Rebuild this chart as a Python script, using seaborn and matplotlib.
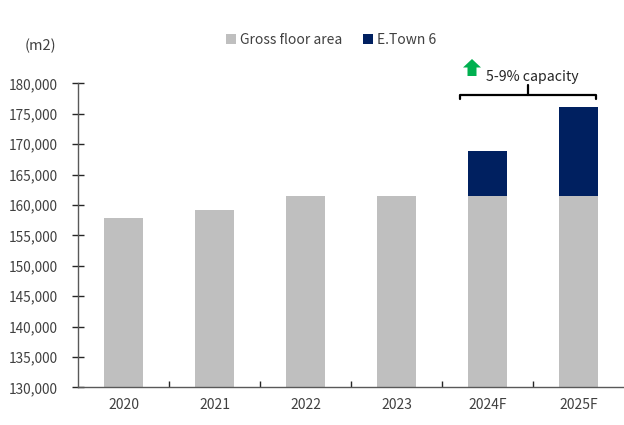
import matplotlib
matplotlib.use("Agg")
import matplotlib.pyplot as plt
import seaborn as sns
import pandas as pd
from matplotlib.patches import Patch, Polygon
from matplotlib.ticker import FuncFormatter, FixedLocator

years = ["2020", "2021", "2022", "2023", "2024F", "2025F"]
gross = [157900, 159200, 161400, 161400, 161400, 161400]
etown = [0, 0, 0, 0, 7400, 14700]
yticks = list(range(130000, 180001, 5000))

GRAY = "#BFBFBF"
NAVY = "#002060"
TXT = "#404040"

sns.set_theme(style="white")
plt.rcParams["font.family"] = ["Noto Sans CJK KR", "DejaVu Sans"]

df = pd.DataFrame({"year": years, "gross": gross,
                   "total": [g + e for g, e in zip(gross, etown)]})

fig = plt.figure(figsize=(6.24, 4.25), dpi=100)
ax = fig.add_axes([78 / 624, 1 - 387.3 / 425, 1 - 78 / 624, (387.3 - 83.3) / 425])

sns.barplot(data=df, x="year", y="total", color=NAVY, width=0.43, ax=ax,
            saturation=1, edgecolor="none")
sns.barplot(data=df, x="year", y="gross", color=GRAY, width=0.43, ax=ax,
            saturation=1, edgecolor="none")

ax.set_ylim(130000, 180000)
ax.set_xlim(-0.5, len(years) - 0.5)
ax.set_yticks(yticks)
ax.yaxis.set_major_formatter(FuncFormatter(lambda v, p: f"{int(v):,}"))
ax.set_xlabel("")
ax.set_ylabel("")

for s in ["top", "right"]:
    ax.spines[s].set_visible(False)
for s in ["left", "bottom"]:
    ax.spines[s].set_color("#595959")
    ax.spines[s].set_linewidth(1.0)

ax.tick_params(axis="y", left=True, direction="inout", length=9, width=1,
               color="#262626", labelsize=9.8, labelcolor=TXT, pad=10)
ax.tick_params(axis="x", which="major", length=0, labelsize=10,
               labelcolor=TXT, pad=8)
ax.xaxis.set_minor_locator(FixedLocator([i + 0.5 for i in range(len(years) - 1)]))
ax.tick_params(axis="x", which="minor", direction="in", length=4, width=1,
               color="#262626", bottom=True)

# legend
handles = [Patch(facecolor=GRAY, edgecolor="none", label="Gross floor area"),
           Patch(facecolor=NAVY, edgecolor="none", label="E.Town 6")]
fig.legend(handles=handles, loc="center", bbox_to_anchor=(331 / 624, 1 - 40 / 425),
           ncol=2, frameon=False, fontsize=10, handlelength=0.7,
           handleheight=0.7, handletextpad=0.3, columnspacing=1.5,
           labelcolor=TXT)

fig.text(40 / 624, 1 - 46 / 425, "(m2)", ha="center", va="center",
         fontsize=10.5, color=TXT)

# bracket annotation
bx0, bx1, bxm = 3.70, 5.19, 4.44
ax.plot([bx0, bx0, bx1, bx1], [177500, 178100, 178100, 177500],
        color="black", lw=1.6, clip_on=False, solid_capstyle="round",
        solid_joinstyle="round")
ax.plot([bxm, bxm], [178100, 179700], color="black", lw=1.6, clip_on=False)
ax.text(4.49, 181100, "5-9% capacity", ha="center", va="center",
        fontsize=10.2, color="#262626", clip_on=False)

# green arrow
pts = [(472, 59), (463, 67.5), (467.5, 67.5), (467.5, 76), (476.5, 76),
       (476.5, 67.5), (481, 67.5)]
fpts = [(x / 624, 1 - y / 425) for x, y in pts]
fig.patches.append(Polygon(fpts, closed=True, facecolor="#00B050",
                           edgecolor="none", transform=fig.transFigure))

fig.savefig("out.png", dpi=100)
